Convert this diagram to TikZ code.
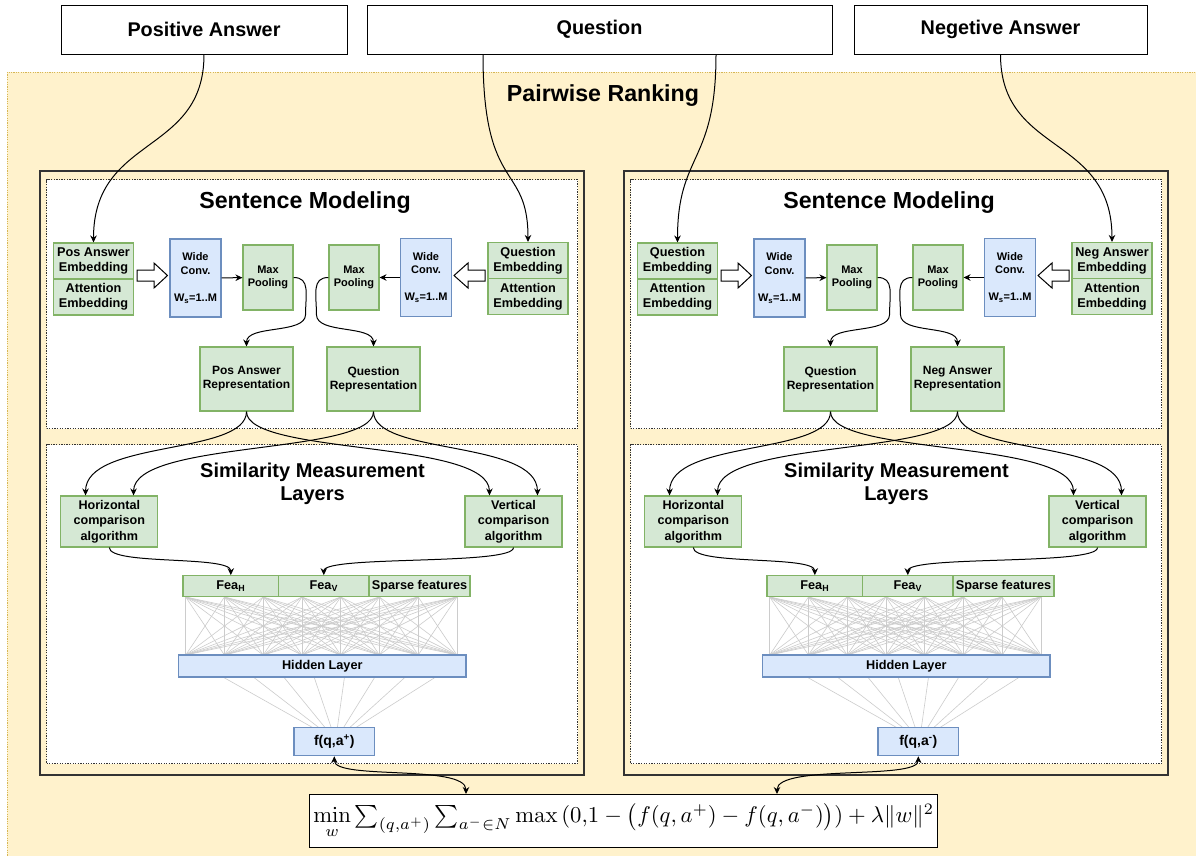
\documentclass[tikz,border=0pt]{standalone}
\usepackage{graphicx}
\usepackage{amsmath}
\usepackage[no-math]{fontspec}
\setmainfont{Liberation Sans}
\usetikzlibrary{arrows.meta,calc}
\definecolor{gfill}{HTML}{D5E8D4}
\definecolor{gdraw}{HTML}{82B366}
\definecolor{bfill}{HTML}{DAE8FC}
\definecolor{bdraw}{HTML}{6C8EBF}
\definecolor{yfill}{HTML}{FFF2CC}
\definecolor{ydraw}{HTML}{D6B656}
\definecolor{dk}{HTML}{333333}
\newcommand\fsz[2]{\fontsize{#1}{#2}\selectfont}
\tikzset{
  gbox/.style={draw=gdraw, fill=gfill, line width=1.1pt, inner sep=0pt, align=center, font=\bfseries\fsz{12.7}{15}},
  bbox/.style={draw=bdraw, fill=bfill, line width=1.1pt, inner sep=0pt, align=center, font=\bfseries\fsz{12.7}{15}},
  smalltxt/.style={font=\bfseries\fsz{11}{13.5}},
  reptxt/.style={font=\bfseries\fsz{12}{14}},
  cmptxt/.style={font=\bfseries\fsz{12.6}{15.5}},
  ftxt/.style={font=\bfseries\fsz{14}{16}},
  topbox/.style={draw=black, fill=white, line width=1pt, inner sep=0pt, minimum height=49, font=\bfseries\fsz{19.8}{22}},
  outerbox/.style={draw=dk, line width=1.6pt, inner sep=0pt},
  dotbox/.style={draw=dk, fill=white, line width=1pt, dash pattern=on 1.3pt off 1.3pt, inner sep=0pt},
  bigtitle/.style={font=\bfseries\fsz{23.2}{26}, inner sep=0pt},
  midtitle/.style={font=\bfseries\fsz{20}{23}, align=center, inner sep=0pt},
  conn/.style={draw=black, line width=1pt, -{Stealth[length=7pt,width=6.5pt]}},
  biconn/.style={draw=black, line width=1pt, {Stealth[length=7pt,width=6.5pt]}-{Stealth[length=7pt,width=6.5pt]}},
  meshline/.style={draw=black!20, line width=0.6pt},
  hollow/.style={draw=black, fill=white, line width=1pt, line join=miter},
}
\newcommand\drawcol[7]{%
\begin{scope}[xshift=#2]
  \node[outerbox, anchor=north west, minimum width=544, minimum height=604] (#1outer) at (39,170) {};
  \node[dotbox, anchor=north west, minimum width=531, minimum height=249] (#1sent) at (46,179) {};
  \node[dotbox, anchor=north west, minimum width=531, minimum height=319] (#1sim) at (46,444) {};
  \node[bigtitle] (#1senttitle) at (305,203) {Sentence Modeling};
  % sentence modeling
  \node[gbox, minimum width=80, minimum height=36] (#1emb1) at (93.5,261) {#3\\Embedding};
  \node[gbox, minimum width=80, minimum height=36] (#1emb2) at (93.5,297) {Attention\\Embedding};
  \node[bbox, smalltxt, minimum width=51, minimum height=78] (#1wc1) at (195.5,278) {Wide\\Conv.\\~\\W\textsubscript{s}=1..M};
  \node[gbox, smalltxt, minimum width=50, minimum height=65] (#1mp1) at (268,277.5) {Max\\Pooling};
  \node[gbox, smalltxt, minimum width=50, minimum height=65] (#1mp2) at (354,277.5) {Max\\Pooling};
  \node[bbox, smalltxt, minimum width=51, minimum height=78] (#1wc2) at (426,277.5) {Wide\\Conv.\\~\\W\textsubscript{s}=1..M};
  \node[gbox, minimum width=80, minimum height=36] (#1emb3) at (528,260.5) {#4\\Embedding};
  \node[gbox, minimum width=80, minimum height=36] (#1emb4) at (528,296.5) {Attention\\Embedding};
  \node[gbox, reptxt, minimum width=93, minimum height=64] (#1rep1) at (246.5,379) {#5\\Representation};
  \node[gbox, reptxt, minimum width=93, minimum height=64] (#1rep2) at (373.5,379) {#6\\Representation};
  \draw[hollow] (137,270) -- (154,270) -- (154,263) -- (167.5,275.5) -- (154,288) -- (154,281) -- (137,281) -- cycle;
  \draw[hollow] (485,270) -- (468,270) -- (468,263) -- (454,275.5) -- (468,288) -- (468,281) -- (485,281) -- cycle;
  \draw[conn] (#1wc1) -- (#1mp1);
  \draw[conn] (#1wc2) -- (#1mp2);
  \draw[conn] (#1mp1.east) .. controls +(17,0) and +(0,-20) .. ++(12,37) .. controls +(0,20) and +(0,-22) .. (#1rep1.north);
  \draw[conn] (#1mp2.west) .. controls +(-17,0) and +(0,-20) .. ++(-12,37) .. controls +(0,20) and +(0,-22) .. (#1rep2.north);
  % similarity
  \node[midtitle] (#1simtitle) at (312.5,483.5) {Similarity Measurement\\Layers};
  \node[gbox, cmptxt, minimum width=97, minimum height=51] (#1hc) at (109.3,521.5) {Horizontal\\comparison\\algorithm};
  \node[gbox, cmptxt, minimum width=97, minimum height=51] (#1vc) at (513.5,521.5) {Vertical\\comparison\\algorithm};
  \foreach \i in {0,...,7} {
    \foreach \j in {0,...,7} {
      \draw[meshline] (185.7+38.75*\i,597) -- (185.7+38.75*\j,655);
    }
    \draw[meshline] (222.9+30.4*\i,677) -- (334.3+6.1*\i-21.35,727.7);
  }
  \node[gbox, minimum width=95.6, minimum height=21] (#1feaH) at (230.8,586.2) {Fea\textsubscript{H}};
  \node[gbox, minimum width=90.4, minimum height=21] (#1feaV) at (323.8,586.2) {Fea\textsubscript{V}};
  \node[gbox, minimum width=101, minimum height=21] (#1sparse) at (419.5,586.2) {Sparse features};
  \node[bbox, minimum width=287.4, minimum height=22] (#1hid) at (322.3,666) {Hidden Layer};
  \node[bbox, ftxt, minimum width=80.6, minimum height=28] (#1f) at (334.3,741.7) {#7};
  \draw[conn] (#1rep1.south) .. controls +(0,44) and +(0,-56) .. ($(#1hc.north west)+(25.3,0)$);
  \draw[conn] (#1rep1.south) .. controls +(0,44) and +(0,-56) .. ($(#1vc.north west)+(25,0)$);
  \draw[conn] (#1rep2.south) .. controls +(0,44) and +(0,-56) .. ($(#1hc.north west)+(73.3,0)$);
  \draw[conn] (#1rep2.south) .. controls +(0,44) and +(0,-56) .. ($(#1vc.north west)+(73,0)$);
  \draw[conn] (#1hc.south) .. controls +(0,18) and +(0,-20) .. (#1feaH.north);
  \draw[conn] (#1vc.south) .. controls +(0,18) and +(0,-20) .. (#1feaV.north);
\end{scope}}

\begin{document}
\begin{tikzpicture}[x=1pt,y=-1pt]
\useasboundingbox (0,0) rectangle (1196,855);
\fill[white] (0,0) rectangle (1196,855);
\draw[fill=yfill, draw=ydraw, line width=1pt, dash pattern=on 1.2pt off 1.2pt] (7,72) rectangle (1205,865);
\node[bigtitle] (pairtitle) at (603,96) {Pairwise Ranking};

\node[topbox, minimum width=286] (pos) at (204,29.5) {Positive Answer};
\node[topbox, minimum width=465] (que) at (599.5,29.5) {Question};
\node[topbox, minimum width=293] (neg) at (1000.5,29.5) {Negetive Answer};

\drawcol{L}{0pt}{Pos Answer}{Question}{Pos Answer}{Question}{f(q,a\textsuperscript{+})}
\drawcol{R}{584pt}{Question}{Neg Answer}{Question}{Neg Answer}{f(q,a\textsuperscript{-})}

\node[draw=black, fill=white, line width=1.2pt, minimum width=628, minimum height=53, inner sep=0pt, anchor=north west] (formula) at (309,794)
  {\scalebox{2.27}{$\textstyle \min\limits_{w} \sum_{(q,a^{+})} \sum_{a^{-}\in N} \max\,(0{,}1-\bigl(f(q,a^{+})-f(q,a^{-})\bigr)) + \lambda\|w\|^{2}$}};

\draw[conn] (pos.south) .. controls +(0,101) and +(0,-108) .. (Lemb1.north);
\draw[conn] ($(que.south west)!0.25!(que.south east)$) .. controls +(0,140) and +(0,-80) .. (Lemb3.north);
\draw[conn] ($(que.south west)!0.75!(que.south east)$) .. controls +(0,110) and +(0,-90) .. (Remb1.north);
\draw[conn] (neg.south) .. controls +(0,101) and +(0,-108) .. (Remb3.north);

\draw[biconn] (Lf.south) .. controls +(0,24) and +(0,-30) .. ($(formula.north west)+(157,0)$);
\draw[biconn] (Rf.south) .. controls +(0,24) and +(0,-30) .. ($(formula.north west)+(468,0)$);
\end{tikzpicture}
\end{document}
